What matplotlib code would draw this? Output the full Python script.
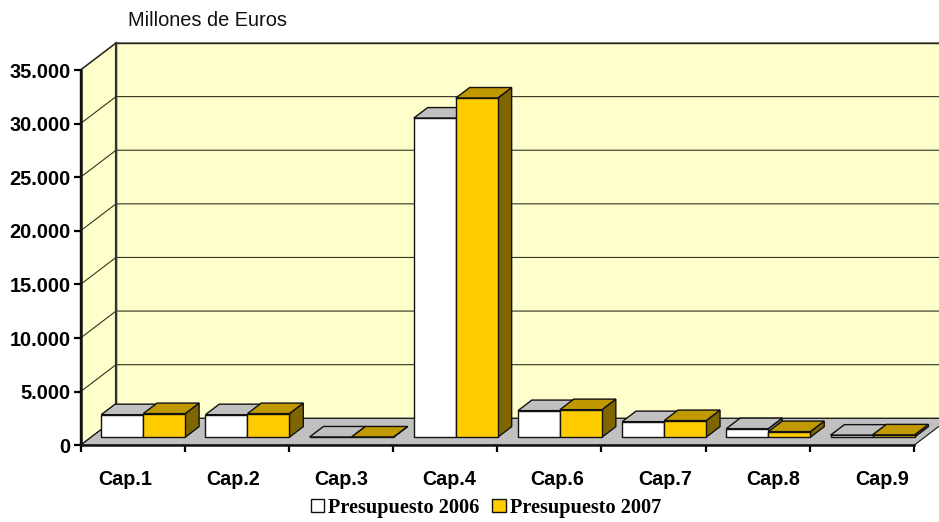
import matplotlib
matplotlib.use('Agg')
import matplotlib.pyplot as plt
from matplotlib.patches import Patch

W, H = 939, 522

categories = ['Cap.1', 'Cap.2', 'Cap.3', 'Cap.4', 'Cap.6', 'Cap.7', 'Cap.8', 'Cap.9']
pres_2006 = [2100, 2100, 20, 29760, 2480, 1450, 800, 190]
pres_2007 = [2200, 2200, 20, 31630, 2570, 1550, 520, 215]
y_ticks = [0, 5000, 10000, 15000, 20000, 25000, 30000, 35000]
y_labels = ['0', '5.000', '10.000', '15.000', '20.000', '25.000', '30.000', '35.000']

# axes box is the front plane of the fake 3d chart
left, right, bottom, top = 80.5, 914.0, 445.3, 70.0
fig = plt.figure(figsize=(W / 100, H / 100), dpi=100, facecolor='white')
ax = fig.add_axes([left / W, 1 - bottom / H, (right - left) / W, (bottom - top) / H])
ax.set_xlim(0, len(categories))
ax.set_ylim(0, 35000)
ax.patch.set_visible(False)

# depth of the box in data units
dx = 35.5 / (right - left) * len(categories)
dy = 27.0 / (bottom - top) * 35000


def proj(x, v, d):
    return x + d * dx, v + d * dy


def poly(pts, fc, ec='#111111', lw=1.0, z=1):
    ax.fill([p[0] for p in pts], [p[1] for p in pts], facecolor=fc, edgecolor=ec,
            linewidth=lw, zorder=z, clip_on=False, joinstyle='miter')


# back wall, side wall, floor
n = len(categories)
poly([proj(0, 0, 1), proj(n, 0, 1), proj(n, 35000, 1), proj(0, 35000, 1)], '#FFFFCC', z=1)
poly([(0, 0), proj(0, 0, 1), proj(0, 35000, 1), (0, 35000)], '#FFFFCC', z=1)
for v in y_ticks[1:]:
    ax.plot([0, proj(0, v, 1)[0], proj(n, v, 1)[0]], [v, proj(0, v, 1)[1], proj(n, v, 1)[1]],
            color='#333322', lw=0.8, zorder=1.5, clip_on=False)
ax.plot([dx, dx], [dy, 35000 + dy], color='#333333', lw=1.6, zorder=1.6, clip_on=False)
poly([(0, 0), (n, 0), proj(n, 0, 1), proj(0, 0, 1)], '#C0C0C0', lw=0.8, z=2)

# bars
bar_w = 42.0 / (right - left) * n
d0, d1 = 0.30, 0.69


def bar3d(x0, h, front, roof, side, z):
    x1 = x0 + bar_w
    b = proj(0, 0, d0)[1]
    poly([proj(x1, 0, d0), proj(x1, 0, d1), proj(x1, h, d1), proj(x1, h, d0)], side, z=z)
    poly([proj(x0, h, d0), proj(x1, h, d0), proj(x1, h, d1), proj(x0, h, d1)], roof, z=z)
    ax.bar(proj(x0, 0, d0)[0], h, width=bar_w, bottom=b, align='edge', color=front,
           edgecolor='#111111', linewidth=1.0, zorder=z, clip_on=False)


for i in range(n):
    bar3d(i + 0.5 - bar_w, pres_2006[i], 'white', '#C0C0C0', '#808080', 3 + i)
    bar3d(i + 0.5, pres_2007[i], '#FFCC00', '#C09900', '#806600', 3.5 + i)

for s in ['top', 'right']:
    ax.spines[s].set_visible(False)
for s in ['left', 'bottom']:
    ax.spines[s].set_linewidth(1.8)
    ax.spines[s].set_color('#111111')
    ax.spines[s].set_zorder(20)

ax.set_yticks(y_ticks, y_labels, fontfamily='Liberation Sans', fontweight='bold', fontsize=14.4)
ax.tick_params(axis='y', length=5, width=1.6, pad=2)

ax.set_xticks(range(n + 1), [''] * (n + 1))
ax.tick_params(axis='x', which='major', length=5, width=1.6)
# category names do not sit quite on the tick spacing in the original
label_x = [0.431 + i * 1.037 for i in range(n)]
ax.set_xticks(label_x, categories, minor=True, fontfamily='Liberation Sans', fontweight='bold', fontsize=14.2)
ax.tick_params(axis='x', which='minor', length=0, pad=18)

fig.text(128 / W, 1 - 20 / H, 'Millones de Euros', fontfamily='Liberation Sans', fontsize=14.4,
         va='center', ha='left', color='#111111')

handles = [Patch(facecolor='white', edgecolor='#111111', label='Presupuesto 2006'),
           Patch(facecolor='#FFCC00', edgecolor='#111111', label='Presupuesto 2007')]
fig.legend(handles=handles, loc='center', bbox_to_anchor=(486 / W, 1 - 507.5 / H), ncol=2, frameon=False,
           prop={'family': 'Liberation Serif', 'weight': 'bold', 'size': 14.6},
           handlelength=0.65, handleheight=0.57, handletextpad=0.2, columnspacing=0.62, borderpad=0)

fig.savefig('out.png', dpi=100)
